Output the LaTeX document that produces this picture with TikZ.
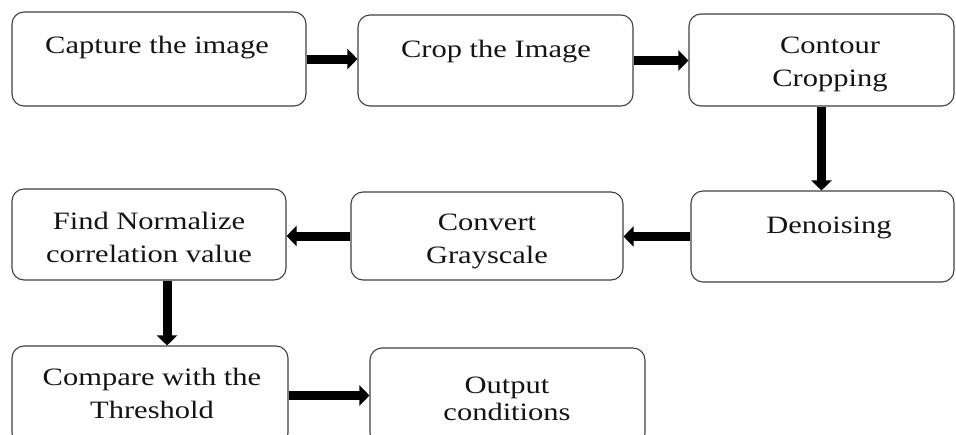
\documentclass[tikz,border=0pt]{standalone}
\usepackage{fontspec}
\setmainfont{Liberation Serif}[FakeStretch=1.22]
\usetikzlibrary{arrows.meta}
\tikzset{
  box/.style={draw=black!75, line width=1.1pt, rounded corners=12pt, inner sep=0pt},
  txt/.style={anchor=base, align=center, inner sep=0pt, font=\fontsize{25}{33}\selectfont, text=black!92},
  bigarrow/.style={line width=9pt, -{Triangle[length=10pt,width=20pt]}, black}
}
\begin{document}
\begin{tikzpicture}[x=1pt,y=-1pt]
\useasboundingbox (0,0) rectangle (956,434);
\clip (0,0) rectangle (956,434);
% boxes
\node[box, minimum width=294pt, minimum height=94pt] (B1) at (159,59) {};
\node[box, minimum width=275pt, minimum height=91pt] (B2) at (495.5,60.5) {};
\node[box, minimum width=265pt, minimum height=92pt] (B3) at (821.5,60) {};
\node[box, minimum width=263pt, minimum height=91pt] (B4) at (822.5,236.5) {};
\node[box, minimum width=272pt, minimum height=88pt] (B5) at (487,236) {};
\node[box, minimum width=274pt, minimum height=91pt] (B6) at (149,234.5) {};
\node[box, minimum width=276pt, minimum height=99pt] (B7) at (150,395.5) {};
\node[box, minimum width=275pt, minimum height=97pt] (B8) at (507.5,396.5) {};
% texts (base anchor = baseline of last line)
\node[txt] (T1) at (157,53) {Capture the image};
\node[txt] (T2) at (496,57) {Crop the Image};
\node[txt] (T3) at (830,86) {Contour\\Cropping};
\node[txt] (T4) at (829,233) {Denoising};
\node[txt] (T5) at (487,263) {Convert\\Grayscale};
\node[txt] (T6) at (149,262) {Find Normalize\\correlation value};
\node[txt] (T7) at (152,418) {Compare with the\\Threshold};
\node[txt] (T8) at (507,420) {Output\\[-6pt]conditions};
% arrows
\draw[bigarrow] (B1.east) -- (B1.east -| B2.west);
\draw[bigarrow] (B2.east) -- (B2.east -| B3.west);
\draw[bigarrow] (B3.south) -- (B3.south |- B4.north);
\draw[bigarrow] (B4.west) -- (B4.west -| B5.east);
\draw[bigarrow] (B5.west) -- (B5.west -| B6.east);
\draw[bigarrow] ([xshift=18pt]B6.south) -- ([xshift=18pt]B6.south |- B7.north);
\draw[bigarrow] (B7.east) -- (B7.east -| B8.west);
\end{tikzpicture}
\end{document}
